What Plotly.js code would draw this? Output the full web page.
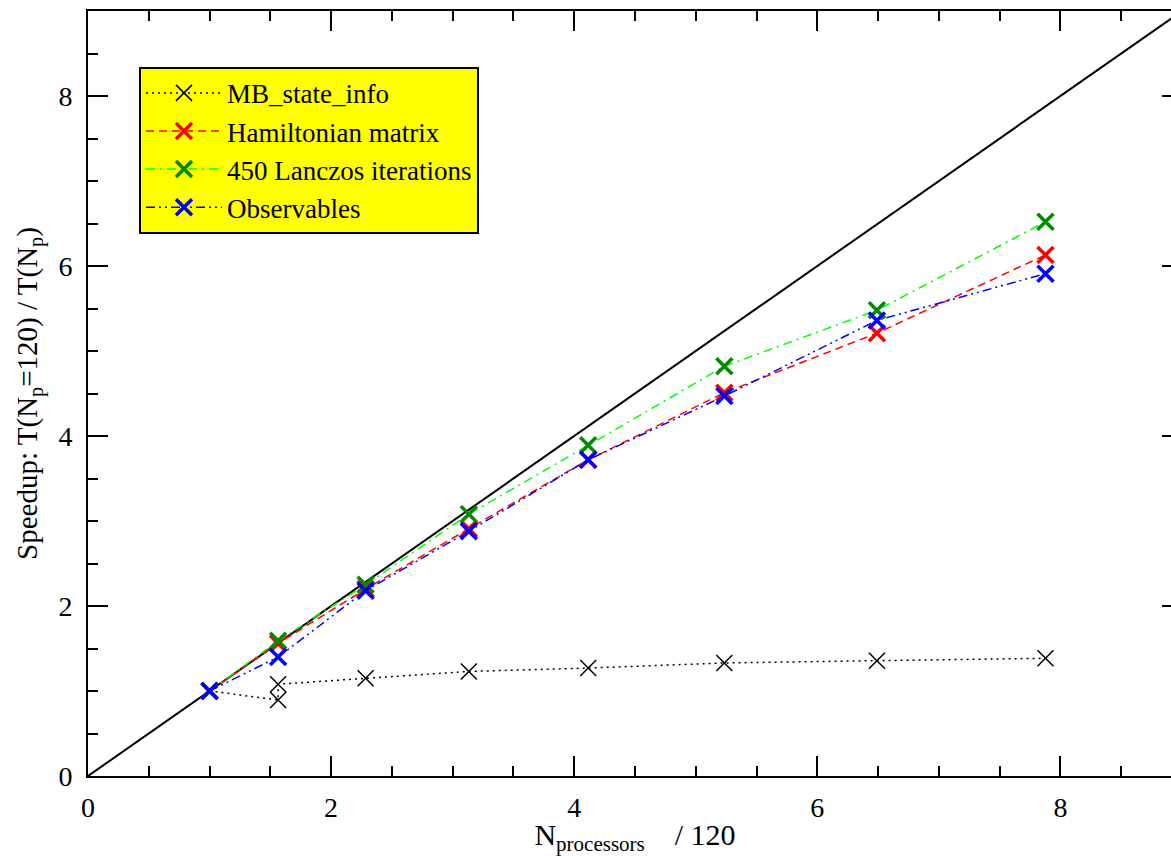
<!DOCTYPE html>
<html>
<head>
<meta charset="utf-8">
<script src="https://cdn.plot.ly/plotly-3.0.1.min.js"></script>
<style>
html,body{margin:0;padding:0;overflow:hidden;background:#fff;}
#chart{width:1200px;height:856px;}
</style>
</head>
<body>
<div id="chart"></div>
<script>
// Data (x = N_processors / 120, y = speedup)
const idealX = [0, 9];
const idealY = [0, 9];

const mbX = [1.0, 1.564, 1.564, 2.284, 3.133, 4.115, 5.235, 6.49, 7.877];
const mbY = [1.0, 0.894, 1.08, 1.15, 1.23, 1.27, 1.33, 1.357, 1.385];

const hamX = [1.0, 1.564, 2.284, 3.133, 4.115, 5.235, 6.49, 7.877];
const hamY = [1.0, 1.56, 2.2, 2.91, 3.72, 4.51, 5.21, 6.13];

const lanX = [1.0, 1.564, 2.284, 3.133, 4.115, 5.235, 6.49, 7.877];
const lanY = [1.0, 1.59, 2.25, 3.08, 3.89, 4.82, 5.48, 6.52];

const obsX = [1.0, 1.564, 2.284, 3.133, 4.115, 5.235, 6.49, 7.877];
const obsY = [1.0, 1.40, 2.18, 2.88, 3.72, 4.47, 5.36, 5.91];

const seriesNames = ["MB_state_info", "Hamiltonian matrix", "450 Lanczos iterations", "Observables"];

const serif = "Liberation Serif, Times New Roman, serif";

const traces = [
  {x: idealX, y: idealY, mode: 'lines', line: {color: '#000', width: 2}, showlegend: false, hoverinfo: 'skip'},
  {x: mbX, y: mbY, name: seriesNames[0], mode: 'lines+markers',
   line: {color: '#000', width: 1.5, dash: '2px,4px'},
   marker: {symbol: 'x-thin', size: 16, line: {color: '#000', width: 1.5}}},
  {x: hamX, y: hamY, name: seriesNames[1], mode: 'lines+markers',
   line: {color: '#ff0000', width: 1.5, dash: '8px,5px'},
   marker: {symbol: 'x-thin', size: 16, line: {color: '#ff0000', width: 3.5}}},
  {x: lanX, y: lanY, name: seriesNames[2], mode: 'lines+markers',
   line: {color: '#00ff00', width: 1.5, dash: '9px,5px,2px,5px'},
   marker: {symbol: 'x-thin', size: 16, line: {color: '#008b00', width: 3.5}}},
  {x: obsX, y: obsY, name: seriesNames[3], mode: 'lines+markers',
   line: {color: '#0000ff', width: 1.5, dash: '9px,4px,2px,4px,2px,4px'},
   marker: {symbol: 'x-thin', size: 16, line: {color: '#0000ff', width: 3.5}}}
];

const axisCommon = {
  showgrid: false, zeroline: false,
  showline: true, linecolor: '#000', linewidth: 2, mirror: 'ticks',
  ticks: 'inside', ticklen: 20, tickwidth: 2, tickcolor: '#000',
  tick0: 0, dtick: 2,
  minor: {dtick: 0.5, ticks: 'inside', ticklen: 10, tickwidth: 2, tickcolor: '#000', showgrid: false},
  tickfont: {family: serif, size: 28, color: '#000'}
};

const layout = {
  width: 1200, height: 856,
  margin: {l: 88, r: 18, t: 11, b: 80},
  paper_bgcolor: '#fff', plot_bgcolor: '#fff',
  font: {family: serif, color: '#000'},
  xaxis: Object.assign({}, axisCommon, {
    range: [0, 9],
    ticklabelstandoff: 5,
    title: {text: 'N<sub>processors</sub>\u00A0\u00A0\u00A0\u00A0/ 120', font: {family: serif, size: 30, color: '#000'}, standoff: 2}
  }),
  yaxis: Object.assign({}, axisCommon, {
    range: [0, 9],
    ticklabelstandoff: 8,
    title: {text: 'Speedup: T(N<sub>p</sub>=120) / T(N<sub>p</sub>)', font: {family: serif, size: 29, color: '#000'}, standoff: 12}
  }),
  legend: {
    x: 0.0466, y: 0.927, xanchor: 'left', yanchor: 'top',
    bgcolor: '#ffff00', bordercolor: '#000', borderwidth: 2,
    font: {family: serif, size: 27, color: '#000'},
    tracegroupgap: 0, itemwidth: 76
  },
  showlegend: true
};

Plotly.newPlot('chart', traces, layout, {displayModeBar: false, staticPlot: true});
</script>
</body>
</html>
